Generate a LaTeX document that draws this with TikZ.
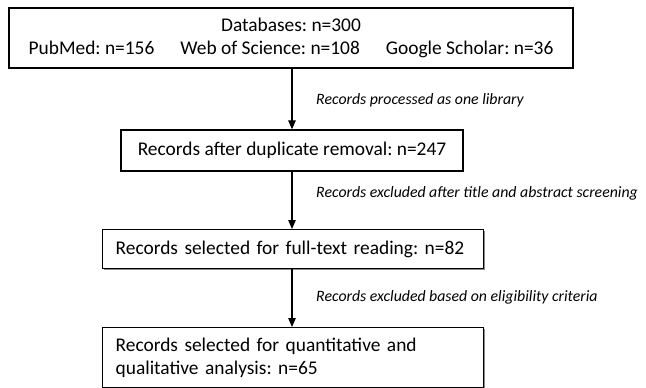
\documentclass[tikz,border=0pt]{standalone}
\usepackage{fontspec}
\setmainfont{Carlito}
\usetikzlibrary{arrows.meta,shadows}
\frenchspacing

\tikzset{
  stagebox/.style={draw=black, line width=1.3pt, fill=white, inner sep=0pt,
    font=\fontsize{19.4}{23}\selectfont,
    drop shadow={shadow xshift=1.2pt, shadow yshift=-1.4pt, fill=black!45, opacity=1}},
  leftbox/.style={stagebox, anchor=north west, align=left, inner xsep=13pt,
    text width=355pt},
  flow/.style={line width=1.1pt, -{Triangle[length=9pt,width=7.5pt]}},
  steplabel/.style={anchor=west, inner sep=0pt,
    font=\fontsize{15.8}{18}\selectfont\itshape}
}

\begin{document}
\begin{tikzpicture}[x=1pt, y=-1pt]
  \useasboundingbox (0,0) rectangle (646,388);

  % sources
  \node[stagebox, minimum width=564pt, minimum height=60pt, align=center]
    (db) at (291,38)
    {Databases: n=300\\
     PubMed: n=156\hspace{26pt}Web of Science: n=108\hspace{26pt}Google Scholar: n=36};

  % screening stages
  \node[stagebox, minimum width=342pt, minimum height=41pt, align=center]
    (dedup) at (292,150.5) {Records after duplicate removal: n=247};

  \node[leftbox, minimum height=39pt] (full) at (102,229)
    {Records selected for full-text reading: n=82};

  \node[leftbox, minimum height=60pt] (final) at (102,327)
    {Records selected for quantitative and\\qualitative analysis: n=65};

  % connectors
  \draw[flow] (db.south -| dedup.south) -- (dedup.north);
  \draw[flow] (dedup.south) -- (dedup.south |- full.north);
  \draw[flow] (dedup.south |- full.south) -- (dedup.south |- final.north);

  % connector notes
  \node[steplabel] (n1) at (316,100) {Records processed as one library};
  \node[steplabel] (n2) at (316,193) {Records excluded after title and abstract screening};
  \node[steplabel] (n3) at (316,297) {Records excluded based on eligibility criteria};
\end{tikzpicture}
\end{document}
